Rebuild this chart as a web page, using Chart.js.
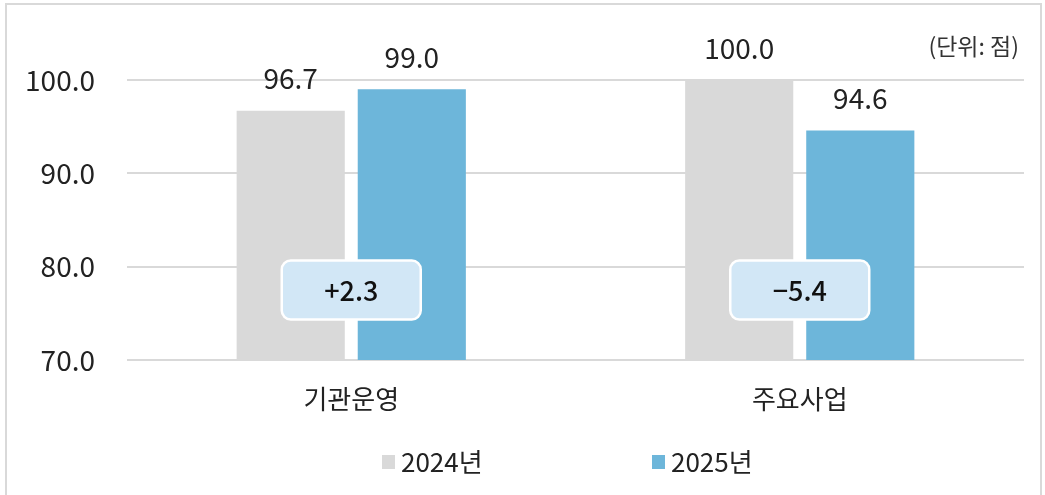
<!DOCTYPE html>
<html>
<head>
<meta charset="utf-8">
<script src="https://cdn.jsdelivr.net/npm/chart.js@4/dist/chart.umd.min.js"></script>
<style>
  html,body{margin:0;padding:0;background:#fff;}
  #wrap{position:relative;width:1045px;height:495px;}
  #frame{position:absolute;left:5px;top:3px;width:1033px;height:500px;border:2px solid #d9d9d9;pointer-events:none;}
</style>
</head>
<body>
<div id="wrap">
  <canvas id="c" width="1045" height="495"></canvas>
  <div id="frame"></div>
</div>
<script>
// data
const categories = ['기관운영', '주요사업'];
const seriesNames = ['2024년', '2025년'];
const values2024 = [96.7, 100.0];
const values2025 = [99.0, 94.6];
const diffLabels = ['+2.3', '\u22125.4'];
const yTicks = [70, 80, 90, 100];
const unitText = '(단위: 점)';

const FONT = '"Noto Sans CJK KR", "Noto Sans", sans-serif';
const colors = ['#d9d9d9', '#6db6da'];

// value labels above bars, diff boxes, unit text, legend
const decorations = {
  id: 'decorations',
  afterDatasetsDraw(chart){
    const ctx = chart.ctx, xs = chart.scales.x, ys = chart.scales.y;
    ctx.save();
    // value labels
    ctx.font = '28px ' + FONT;
    ctx.fillStyle = '#222';
    ctx.textAlign = 'center';
    ctx.textBaseline = 'middle';
    chart.data.datasets.forEach((ds, i)=>{
      chart.getDatasetMeta(i).data.forEach((bar, j)=>{
        ctx.fillText(ds.data[j].toFixed(1), bar.x, bar.y - 32);
      });
    });
    // diff boxes
    diffLabels.forEach((t, j)=>{
      const cx = xs.getPixelForValue(j), cy = ys.getPixelForValue(77.5);
      const w = 139, h = 59, r = 9;
      ctx.beginPath();
      ctx.roundRect(cx - w/2, cy - h/2, w, h, r);
      ctx.fillStyle = '#d2e7f6';
      ctx.fill();
      ctx.lineWidth = 2.5;
      ctx.strokeStyle = '#ffffff';
      ctx.stroke();
      ctx.fillStyle = '#111';
      ctx.font = '500 27px ' + FONT;
      ctx.fillText(t, cx, cy + 1);
    });
    // unit
    ctx.font = '23px ' + FONT;
    ctx.fillStyle = '#333';
    ctx.textAlign = 'right';
    ctx.fillText(unitText, 1019, 46);
    // legend
    const lx = [382, 652];
    ctx.font = '26px ' + FONT;
    ctx.textAlign = 'left';
    seriesNames.forEach((n, i)=>{
      ctx.fillStyle = colors[i];
      ctx.fillRect(lx[i], 455, 13, 14);
      ctx.fillStyle = '#222';
      ctx.fillText(n, lx[i] + 19, 462);
    });
    ctx.restore();
  }
};

new Chart(document.getElementById('c'), {
  type: 'bar',
  data: {
    labels: categories,
    datasets: [
      {label: seriesNames[0], data: values2024, backgroundColor: colors[0]},
      {label: seriesNames[1], data: values2025, backgroundColor: colors[1]}
    ]
  },
  options: {
    responsive: false,
    animation: false,
    layout: {padding: {left: 0, top: 80, right: 21, bottom: 0}},
    datasets: {bar: {categoryPercentage: 0.54, barPercentage: 0.893}},
    plugins: {legend: {display: false}, tooltip: {enabled: false}},
    scales: {
      x: {
        grid: {display: false},
        border: {display: false},
        ticks: {color: '#222', font: {family: FONT, size: 26}, padding: 16},
        afterFit(s){ s.height = 135; }
      },
      y: {
        min: yTicks[0], max: yTicks[yTicks.length - 1],
        afterBuildTicks(s){ s.ticks = yTicks.map(v=>({value: v})); },
        grid: {color: '#d9d9d9', lineWidth: 2, drawTicks: false},
        border: {display: false},
        ticks: {color: '#222', font: {family: FONT, size: 28}, padding: 32,
          callback: v => v.toFixed(1)},
        afterFit(s){ s.width = 127; }
      }
    }
  },
  plugins: [decorations]
});
</script>
</body>
</html>
